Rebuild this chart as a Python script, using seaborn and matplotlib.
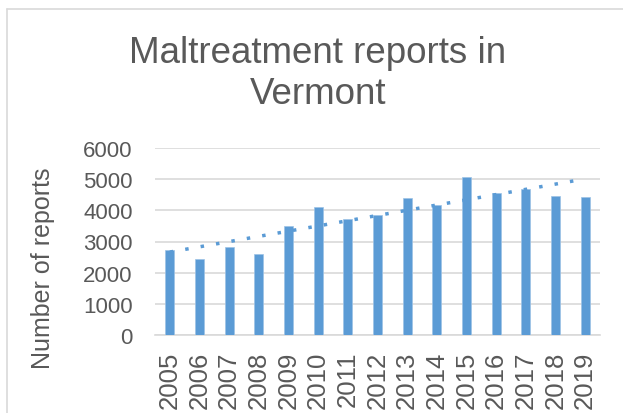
import numpy as np
import pandas as pd
import matplotlib
matplotlib.use("Agg")
import matplotlib.pyplot as plt
from matplotlib.lines import Line2D
import seaborn as sns

# data
years = ["2005", "2006", "2007", "2008", "2009", "2010", "2011", "2012",
         "2013", "2014", "2015", "2016", "2017", "2018", "2019"]
reports = [2720, 2430, 2820, 2590, 3500, 4100, 3720, 3860,
           4380, 4180, 5080, 4570, 4700, 4460, 4420]
y_ticks = [0, 1000, 2000, 3000, 4000, 5000, 6000]

df = pd.DataFrame({"year": years, "reports": reports})

sns.set_style("white")
plt.rcParams["font.family"] = ["Liberation Sans", "DejaVu Sans"]

grey = "#595959"
blue = "#5B9BD5"

fig = plt.figure(figsize=(6.23, 4.14), dpi=100)
ax = fig.add_axes([155 / 623, 78 / 414, 445 / 623, 187 / 414])

sns.barplot(data=df, x="year", y="reports", color=blue, width=0.3,
            edgecolor="#9DC3E6", linewidth=0.5, saturation=1, ax=ax, zorder=3)

# linear trendline like excel
idx = np.arange(len(reports))
k, b = np.polyfit(idx, reports, 1)
ax.plot(idx, k * idx + b, color=blue, lw=2.5, linestyle=(0, (1, 3.5)),
        dash_capstyle="butt", zorder=4)

ax.set_ylim(0, 6000)
ax.set_xlim(-0.5, len(years) - 0.5)
ax.set_yticks(y_ticks)
ax.yaxis.grid(True, color="#D9D9D9", lw=1.2, zorder=0)
for s in ["top", "right", "left"]:
    ax.spines[s].set_visible(False)
ax.spines["bottom"].set_color("#D9D9D9")
ax.spines["bottom"].set_linewidth(1.2)

ax.tick_params(axis="y", length=0, pad=16, labelsize=16, labelcolor=grey)
ax.tick_params(axis="x", length=0, pad=11, labelsize=18.5, labelcolor=grey,
               labelrotation=90)

ax.set_xlabel("")
ax.set_ylabel("Number of reports", fontsize=18, color=grey)
ax.yaxis.set_label_coords(-0.225, 0.364)

fig.text(318 / 623, 1 - 74 / 414, "Maltreatment reports in\nVermont",
         ha="center", va="center", fontsize=26.5, color=grey, linespacing=1.22)

# chart frame (cropped)
fig.add_artist(Line2D([7 / 623, 7 / 623], [0, 1 - 10 / 414],
                      transform=fig.transFigure, color="#D9D9D9", lw=1.2))
fig.add_artist(Line2D([7 / 623, 1], [1 - 10 / 414, 1 - 10 / 414],
                      transform=fig.transFigure, color="#D9D9D9", lw=1.2))

fig.savefig("out.png", dpi=100)
